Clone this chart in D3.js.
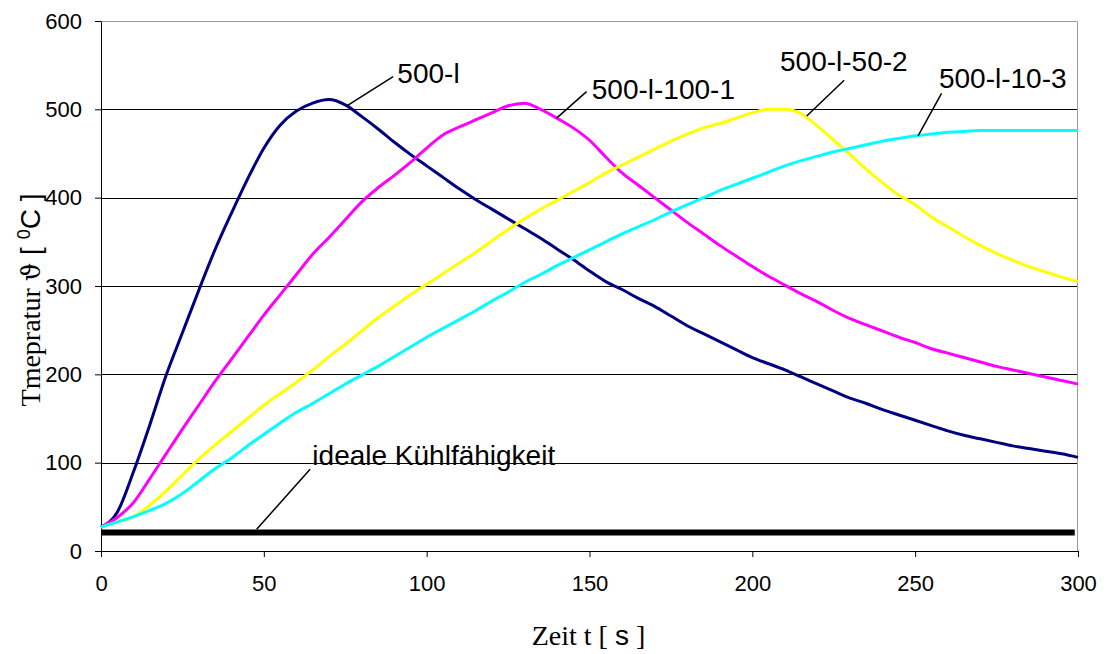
<!DOCTYPE html>
<html>
<head>
<meta charset="utf-8">
<script src="https://cdn.jsdelivr.net/npm/d3@7"></script>
<style>
  body { margin: 0; background: #fff; }
  svg { display: block; }
</style>
</head>
<body>
<div id="chart"></div>
<script>
// time axis (s), one sample every 5 s
const times = [0, 5, 10, 15, 20, 25, 30, 35, 40, 45, 50, 55, 60, 65, 70, 75, 80, 85, 90, 95,
  100, 105, 110, 115, 120, 125, 130, 135, 140, 145, 150, 155, 160, 165, 170, 175, 180, 185, 190, 195,
  200, 205, 210, 215, 220, 225, 230, 235, 240, 245, 250, 255, 260, 265, 270, 275, 280, 285, 290, 295, 300];

// temperatures
const temp500l = [27, 44, 90, 143, 199, 247, 295, 341, 382, 421, 456, 482, 498, 507, 511, 505, 492, 478, 463, 449,
  436, 423, 410, 398, 387, 376, 365, 354, 342, 330, 317, 305, 296, 286, 277, 266, 255, 246, 237, 228,
  219, 212, 205, 197, 189, 181, 173, 167, 160, 154, 148, 142, 136, 131, 127, 123, 119, 116, 113, 110, 106];
const temp500l100 = [27, 38, 55, 82, 110, 138, 165, 192, 217, 242, 267, 290, 313, 336, 355, 375, 395, 411, 425, 440,
  456, 471, 480, 488, 496, 504, 507, 500, 490, 479, 465, 446, 428, 414, 400, 386, 372, 359, 346, 334,
  322, 311, 301, 291, 282, 272, 263, 256, 249, 242, 236, 229, 224, 219, 214, 209, 205, 201, 197, 193, 189];
const temp500l50 = [27, 33, 39, 52, 68, 86, 104, 120, 135, 150, 165, 178, 191, 205, 220, 234, 249, 264, 277, 290,
  302, 314, 326, 338, 351, 364, 376, 387, 397, 407, 417, 428, 437, 446, 455, 464, 472, 479, 484, 490,
  496, 500, 500, 495, 481, 465, 449, 432, 417, 403, 392, 378, 367, 356, 346, 337, 329, 322, 316, 310, 305];
const temp500l10 = [27, 33, 39, 46, 54, 65, 79, 93, 105, 119, 132, 145, 157, 167, 178, 189, 199, 209, 220, 231,
  242, 252, 262, 272, 283, 293, 304, 313, 323, 332, 341, 350, 359, 367, 375, 384, 392, 400, 408, 415,
  422, 429, 436, 442, 447, 452, 456, 460, 464, 467, 470, 472, 474, 475, 476, 476, 476, 476, 476, 476, 476];

// ideal cooling capacity: constant line
const idealTimes = [0, 299];
const idealTemps = [21, 21];

const seriesNames = ["500-l", "500-l-100-1", "500-l-50-2", "500-l-10-3"];
const seriesColors = ["#000080", "#ff00ff", "#ffff00", "#00ffff"];

const xTicks = [0, 50, 100, 150, 200, 250, 300];
const yTicks = [0, 100, 200, 300, 400, 500, 600];

// callouts: curve point -> label point, in data units
const callouts = [
  { text: "500-l", from: [75.5, 504], to: [89.7, 537], at: [91, 530] },
  { text: "500-l-100-1", from: [139.9, 490], to: [149.1, 520], at: [150.7, 511.5] },
  { text: "500-l-50-2", from: [216.7, 492.5], to: [228.2, 533], at: [208.5, 543.5] },
  { text: "500-l-10-3", from: [250.9, 470], to: [258.1, 518], at: [257.3, 524] },
  { text: "ideale Kühlfähigkeit", from: [47.8, 24.6], to: [64.2, 92.5], at: [64.9, 97.4] }
];

const width = 1108, height = 654;
const margin = { top: 21, right: 30, bottom: 103, left: 101 };
const w = width - margin.left - margin.right;
const h = height - margin.top - margin.bottom;

const svg = d3.select("#chart").append("svg")
    .attr("width", width)
    .attr("height", height);

const chart = svg.append("g")
    .attr("transform", `translate(${margin.left}, ${margin.top})`);

const x = d3.scaleLinear().domain([0, 300]).range([0, w]);
const y = d3.scaleLinear().domain([0, 600]).range([h, 0]);

// horizontal gridlines
chart.append("g")
    .attr("class", "grid")
    .selectAll("line")
    .data(yTicks.filter(d => d > 0 && d < 600))
    .enter().append("line")
    .attr("x1", 0).attr("x2", w)
    .attr("y1", d => Math.round(y(d)) + 0.5)
    .attr("y2", d => Math.round(y(d)) + 0.5)
    .attr("stroke", "#000")
    .attr("stroke-width", 1);

// plot frame (top / right)
chart.append("path")
    .attr("d", `M0.5,0.5H${w - 0.5}V${h}`)
    .attr("fill", "none")
    .attr("stroke", "#9a9a9a")
    .attr("stroke-width", 1);

// axes
const xAxis = chart.append("g")
    .attr("class", "axis axis-x")
    .attr("transform", `translate(0, ${h})`)
    .call(d3.axisBottom(x).tickValues(xTicks).tickSizeInner(6).tickSizeOuter(0).tickPadding(18));

const yAxis = chart.append("g")
    .attr("class", "axis axis-y")
    .call(d3.axisLeft(y).tickValues(yTicks).tickSizeInner(6).tickSizeOuter(0).tickPadding(13));

svg.selectAll(".axis path, .axis line").attr("stroke", "#000");
svg.selectAll(".axis text")
    .attr("fill", "#000")
    .style("font-family", "'Liberation Sans', Arial, sans-serif")
    .style("font-size", "22px");

// temperature curves
const line = d3.line()
    .x(d => x(d[0]))
    .y(d => y(d[1]))
    .curve(d3.curveMonotoneX);

const allSeries = [temp500l, temp500l100, temp500l50, temp500l10];
chart.append("g")
    .attr("class", "lines")
    .selectAll("path")
    .data(allSeries)
    .enter().append("path")
    .attr("d", vals => line(vals.map((v, i) => [times[i], v])))
    .attr("fill", "none")
    .attr("stroke", (d, i) => seriesColors[i])
    .attr("stroke-width", 3)
    .attr("stroke-linejoin", "round");

chart.append("path")
    .attr("class", "ideal")
    .attr("d", line(idealTimes.map((t, i) => [t, idealTemps[i]])))
    .attr("fill", "none")
    .attr("stroke", "#000")
    .attr("stroke-width", 6);

// callout labels
const notes = chart.append("g").attr("class", "callouts");
notes.selectAll("line")
    .data(callouts)
    .enter().append("line")
    .attr("x1", d => x(d.from[0])).attr("y1", d => y(d.from[1]))
    .attr("x2", d => x(d.to[0])).attr("y2", d => y(d.to[1]))
    .attr("stroke", "#000")
    .attr("stroke-width", 1.5);

notes.selectAll("text")
    .data(callouts)
    .enter().append("text")
    .attr("x", d => x(d.at[0]))
    .attr("y", d => y(d.at[1]))
    .style("font-family", "'Liberation Sans', Arial, sans-serif")
    .style("font-size", "28px")
    .attr("fill", "#000")
    .text(d => d.text);

// axis titles
const serif = "'Liberation Serif', 'Times New Roman', serif";
const sans = "'Liberation Sans', Arial, sans-serif";

const yTitle = svg.append("text")
    .attr("transform", "translate(40, 300) rotate(-90)")
    .attr("text-anchor", "middle")
    .style("font-size", "28px")
    .attr("fill", "#000");
yTitle.append("tspan").style("font-family", serif).text("Tmepratur ");
yTitle.append("tspan").style("font-family", "'DejaVu Serif', serif").style("font-size", "26px").text("ϑ");
yTitle.append("tspan").style("font-family", sans).text(" [ ");
yTitle.append("tspan").style("font-family", sans).style("font-size", "18px").attr("dy", -10).text("0");
yTitle.append("tspan").style("font-family", sans).attr("dy", 10).text("C ]");

const xTitle = svg.append("text")
    .attr("x", margin.left + x(150) - 1)
    .attr("y", 645)
    .attr("text-anchor", "middle")
    .style("font-size", "28px")
    .attr("fill", "#000");
xTitle.append("tspan").style("font-family", serif).text("Zeit t [ ");
xTitle.append("tspan").style("font-family", sans).text("s");
xTitle.append("tspan").style("font-family", serif).text(" ]");
</script>
</body>
</html>
